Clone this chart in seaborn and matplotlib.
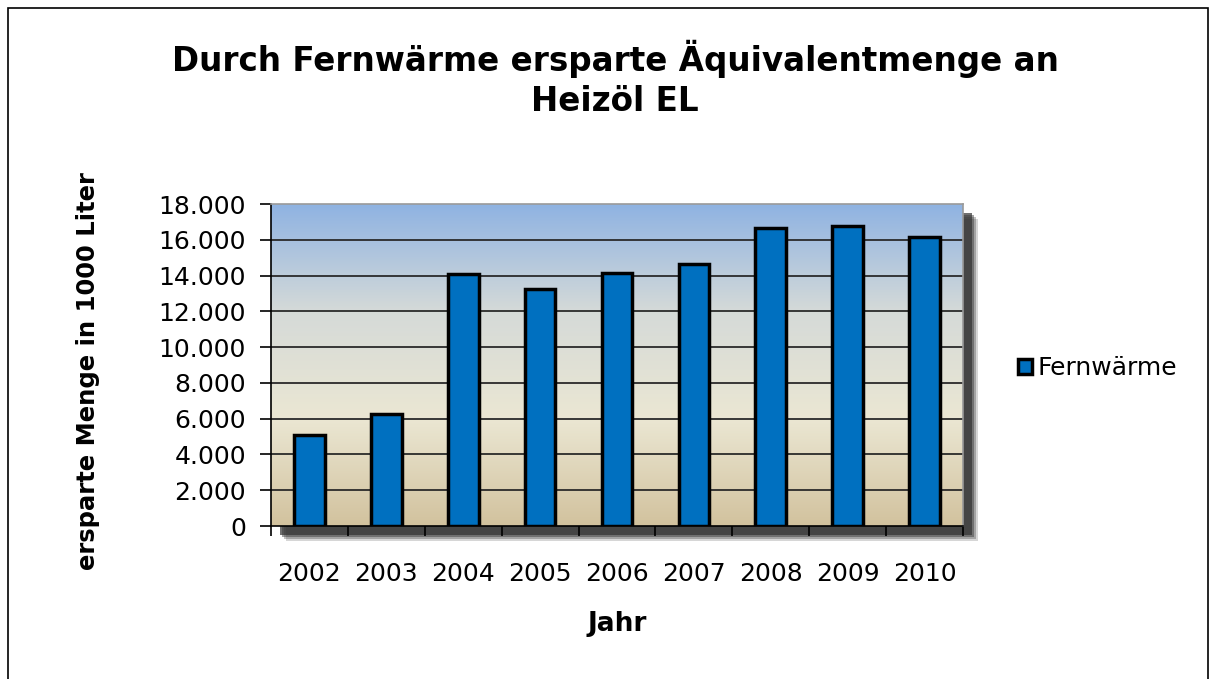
import numpy as np
import pandas as pd
import matplotlib.pyplot as plt
import seaborn as sns
from matplotlib.colors import LinearSegmentedColormap
from matplotlib.patches import Rectangle

jahre = ['2002', '2003', '2004', '2005', '2006', '2007', '2008', '2009', '2010']
menge = [5100, 6250, 14100, 13250, 14150, 14650, 16650, 16750, 16150]
yticks = [0, 2000, 4000, 6000, 8000, 10000, 12000, 14000, 16000, 18000]
ytick_labels = ['0', '2.000', '4.000', '6.000', '8.000', '10.000', '12.000', '14.000', '16.000', '18.000']

df = pd.DataFrame({'Jahr': jahre, 'Menge': menge, 'Serie': 'Fernwärme'})

sns.set_style('white')
plt.rcParams['font.family'] = ['DejaVu Sans']
plt.rcParams['text.color'] = 'black'
plt.rcParams['axes.labelcolor'] = 'black'
plt.rcParams['xtick.color'] = 'black'
plt.rcParams['ytick.color'] = 'black'

W, H = 1216, 679
fig = plt.figure(figsize=(W / 100, H / 100), dpi=100)
ax = fig.add_axes([271 / W, 1 - 526 / H, 692 / W, 322 / H])
ax.set_zorder(2)

# soft shadow behind plot area
for off, a in [(15, 0.2), (13, 0.3), (11, 0.45), (9, 0.7)]:
    fig.patches.append(Rectangle(((271 + off) / W, 1 - (526 + off) / H), 692 / W, 322 / H,
                                 transform=fig.transFigure, facecolor='#333333', alpha=a,
                                 edgecolor='none', zorder=-1))
# thin frame around the whole chart
fig.patches.append(Rectangle((8 / W, -0.01), 1200 / W, 1 - 8 / H + 0.01,
                             transform=fig.transFigure, facecolor='none', edgecolor='black', lw=1.2))

cmap = LinearSegmentedColormap.from_list('bg', ['#d2c29e', '#ebe7d3', '#d5dad8', '#8fb3e2'])
grad = np.linspace(0, 1, 256).reshape(-1, 1)
ax.imshow(grad, cmap=cmap, aspect='auto', origin='lower', extent=(-0.5, 8.5, 0, 18000), zorder=0)

sns.barplot(data=df, x='Jahr', y='Menge', hue='Serie', palette=['#0070c0'], width=0.4,
            edgecolor='black', linewidth=2.5, saturation=1, ax=ax, zorder=3)

ax.set_xlim(-0.5, 8.5)
ax.set_ylim(0, 18000)
ax.set_yticks(yticks)
ax.set_yticklabels(ytick_labels)
for y in yticks[1:-1]:
    ax.axhline(y, color='#2a2a2a', lw=1.3, zorder=1)

ax.set_xticks(range(len(jahre)))
ax.set_xticklabels(jahre)
ax.set_xticks(np.arange(-0.5, 9, 1), minor=True)
ax.tick_params(axis='x', which='major', length=0, pad=26, labelsize=18)
ax.tick_params(axis='x', which='minor', length=7, width=1.2, color='black', direction='out', bottom=True)
ax.tick_params(axis='y', length=8, width=1.2, color='black', direction='out', left=True, labelsize=18, pad=10)

for side in ['top', 'right']:
    ax.spines[side].set_color('#9a9a9a')
    ax.spines[side].set_linewidth(1.2)
for side in ['left', 'bottom']:
    ax.spines[side].set_color('black')
    ax.spines[side].set_linewidth(1.2)

ax.set_xlabel('Jahr', fontsize=19, fontweight='bold', labelpad=18)
ax.set_ylabel('ersparte Menge in 1000 Liter', fontsize=17.5, fontweight='bold', labelpad=42)
ax.yaxis.label.set_y(0.48)

fig.text(615 / W, 1 - 79 / H, 'Durch Fernwärme ersparte Äquivalentmenge an\nHeizöl EL',
         ha='center', va='center', fontsize=23.5, fontweight='bold', linespacing=1.25)

leg = ax.legend(loc='center left', bbox_to_anchor=(1.065, 0.49), frameon=False, fontsize=18,
                handlelength=0.55, handleheight=0.55, handletextpad=0.25, borderaxespad=0)

fig.savefig('out.png', dpi=100)
